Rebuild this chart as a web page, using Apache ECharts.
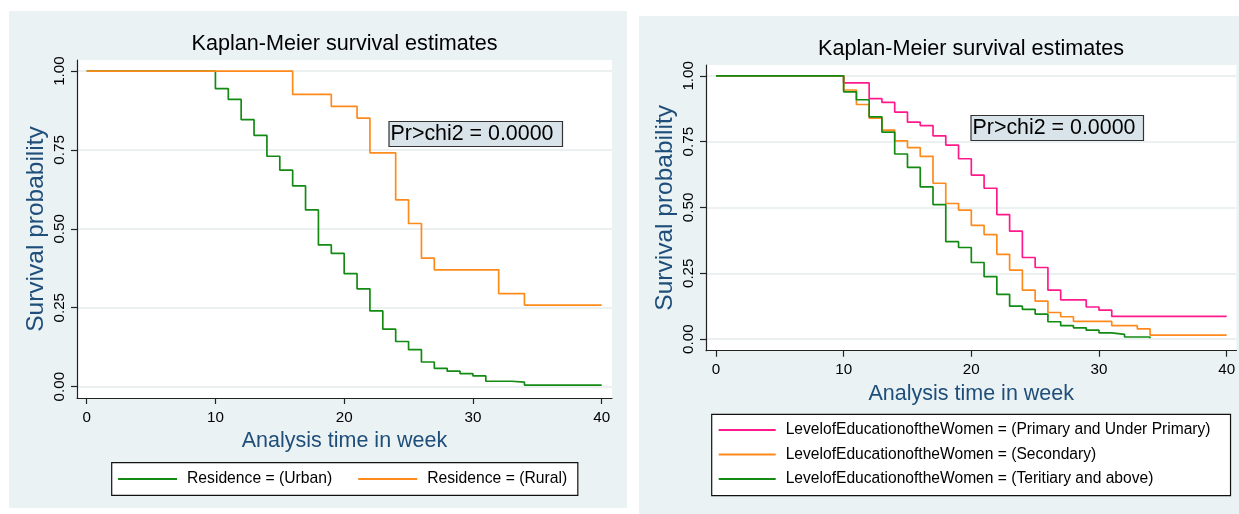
<!DOCTYPE html>
<html>
<head>
<meta charset="utf-8">
<script src="https://cdn.jsdelivr.net/npm/echarts@6/dist/echarts.min.js"></script>
<style>
html,body{margin:0;padding:0;background:#fff;}
#chart{width:1239px;height:514px;}
</style>
</head>
<body>
<div id="chart"></div>
<script>
// ---- Data ----
const chartTitle = 'Kaplan-Meier survival estimates';
const xAxisTitle = 'Analysis time in week';
const yAxisTitle = 'Survival probability';
const testLabel = 'Pr>chi2 = 0.0000';
const xTickValues = [0, 10, 20, 30, 40];
const yTickValues = [0, 0.25, 0.5, 0.75, 1];

// Left panel: Residence
const urbanName = 'Residence = (Urban)';
const urbanTimes = [0,10,11,12,13,14,15,16,17,18,19,20,21,22,23,24,25,26,27,28,29,30,31,33,34,40];
const urbanSurv  = [1,0.944,0.910,0.846,0.796,0.730,0.686,0.636,0.560,0.449,0.422,0.358,0.310,0.240,0.182,0.143,0.117,0.078,0.058,0.049,0.041,0.034,0.017,0.014,0.005,0.005];

const ruralName = 'Residence = (Rural)';
const ruralTimes = [0,16,19,21,22,24,25,26,27,32,34,40];
const ruralSurv  = [1,0.926,0.888,0.851,0.741,0.592,0.517,0.407,0.370,0.295,0.258,0.258];

// Right panel: Level of education
const primaryName = 'LevelofEducationoftheWomen = (Primary and Under Primary)';
const primaryTimes = [0,10,12,13,14,15,16,17,18,19,20,21,22,23,24,25,26,27,29,30,31,40];
const primarySurv  = [1,0.973,0.913,0.899,0.862,0.824,0.811,0.772,0.737,0.685,0.623,0.573,0.473,0.410,0.310,0.272,0.186,0.149,0.122,0.110,0.086,0.086];

const secondaryName = 'LevelofEducationoftheWomen = (Secondary)';
const secondaryTimes = [0,10,11,12,13,14,15,16,17,18,19,20,21,22,23,24,25,26,27,28,31,33,34,40];
const secondarySurv  = [1,0.946,0.891,0.839,0.794,0.753,0.727,0.694,0.592,0.515,0.490,0.432,0.397,0.322,0.262,0.186,0.144,0.101,0.085,0.067,0.051,0.039,0.015,0.015];

const tertiaryName = 'LevelofEducationoftheWomen = (Teritiary and above)';
const tertiaryTimes = [0,10,11,12,13,14,15,16,17,18,19,20,21,22,23,24,25,26,27,28,29,30,31,32,34];
const tertiarySurv  = [1,0.939,0.909,0.844,0.786,0.703,0.652,0.578,0.511,0.370,0.348,0.291,0.237,0.170,0.125,0.113,0.095,0.066,0.051,0.043,0.034,0.024,0.018,0.008,0.003];

// ---- Styling ----
const FONT = '"Liberation Sans", Arial, Helvetica, sans-serif';
const GREEN = '#138a13';
const ORANGE = '#ff8a1c';
const PINK = '#ff1a8c';
const PANEL = '#eaf2f3';
const AXIS_BLUE = '#1f4e7a';

function pairs(t, s) { return t.map((v, i) => [v, s[i]]); }

function xAxisFor(gridIndex, min, max) {
  return {
    type: 'value', gridIndex, min, max,
    name: xAxisTitle, nameLocation: 'middle', nameGap: 31,
    nameTextStyle: { color: AXIS_BLUE, fontSize: 21.5, fontFamily: FONT },
    axisLine: { show: true, onZero: false, lineStyle: { color: '#222', width: 1.2 } },
    axisTick: { show: true, length: 6, customValues: xTickValues, lineStyle: { color: '#222', width: 1.2 } },
    axisLabel: { customValues: xTickValues, color: '#000', fontSize: 15.2, fontFamily: FONT, margin: 12 },
    splitLine: { show: false }
  };
}
function yAxisFor(gridIndex, min, max) {
  return {
    type: 'value', gridIndex, min, max,
    name: yAxisTitle, nameLocation: 'middle', nameGap: 28,
    nameTextStyle: { color: AXIS_BLUE, fontSize: 24.5, fontFamily: FONT },
    axisLine: { show: true, onZero: false, lineStyle: { color: '#222', width: 1.2 } },
    axisTick: { show: true, length: 6, customValues: yTickValues, lineStyle: { color: '#222', width: 1.2 } },
    axisLabel: { customValues: yTickValues, rotate: 90, color: '#000', fontSize: 15.2, fontFamily: FONT, margin: 10,
                 formatter: v => v.toFixed(2) },
    splitLine: { show: true, lineStyle: { color: '#e4eced', width: 1.6 } }
  };
}
function kmSeries(name, t, s, color, xi, z) {
  return {
    type: 'line', name, step: 'end', xAxisIndex: xi, yAxisIndex: xi,
    data: pairs(t, s), symbol: 'none', showSymbol: false, z,
    color, lineStyle: { color, width: 1.7 }, itemStyle: { color },
    emphasis: { disabled: true }
  };
}
function pBox(x, y, w, h) {
  return {
    type: 'group', z: 100,
    children: [
      { type: 'rect', shape: { x, y, width: w, height: h },
        style: { fill: '#d9e4ea', stroke: '#333', lineWidth: 1.2 } },
      { type: 'text', x: x + 1.5, y: y + h / 2,
        style: { text: testLabel, fill: '#000', font: '21.4px ' + FONT, textAlign: 'left', textVerticalAlign: 'middle' } }
    ]
  };
}

const chart = echarts.init(document.getElementById('chart'), null, { renderer: 'canvas' });
chart.setOption({
  animation: false,
  backgroundColor: '#ffffff',
  graphic: [
    { type: 'rect', z: -10, shape: { x: 9, y: 11, width: 618, height: 497 }, style: { fill: PANEL } },
    { type: 'rect', z: -10, shape: { x: 639, y: 16, width: 600, height: 498 }, style: { fill: PANEL } },
    { type: 'text', z: 100, x: 344.5, y: 44,
      style: { text: chartTitle, fill: '#000', font: '21.6px ' + FONT, textAlign: 'center', textVerticalAlign: 'middle' } },
    { type: 'text', z: 100, x: 971, y: 49,
      style: { text: chartTitle, fill: '#000', font: '21.6px ' + FONT, textAlign: 'center', textVerticalAlign: 'middle' } },
    pBox(389, 121.5, 173.5, 25),
    pBox(971, 115.5, 172.5, 25)
  ],
  grid: [
    { left: 77, top: 60, width: 535, height: 338, show: true, backgroundColor: '#fff', borderWidth: 0 },
    { left: 706, top: 65, width: 530.5, height: 285.7, show: true, backgroundColor: '#fff', borderWidth: 0 }
  ],
  xAxis: [ xAxisFor(0, -0.75, 40.8), xAxisFor(1, -0.78, 40.77) ],
  yAxis: [ yAxisFor(0, -0.036, 1.035), yAxisFor(1, -0.044, 1.041) ],
  legend: [
    {
      left: 111.7, top: 462.7, orient: 'horizontal',
      data: [urbanName, ruralName],
      icon: 'rect', itemWidth: 59, itemHeight: 2, itemGap: 26,
      padding: [7.3, 10.7, 7.3, 6.3],
      backgroundColor: '#fff', borderColor: '#111', borderWidth: 1.2,
      selectedMode: false,
      textStyle: { color: '#000', fontSize: 15.7, fontFamily: FONT, lineHeight: 18, padding: [0, 0, 0, 5] }
    },
    {
      left: 711.7, top: 414.3, orient: 'vertical',
      data: [primaryName, secondaryName, tertiaryName],
      icon: 'rect', itemWidth: 57, itemHeight: 2, itemGap: 6.5,
      padding: [6.7, 20, 7.7, 7],
      backgroundColor: '#fff', borderColor: '#111', borderWidth: 1.2,
      selectedMode: false,
      textStyle: { color: '#000', fontSize: 15.6, fontFamily: FONT, lineHeight: 18, padding: [0, 0, 0, 5] }
    }
  ],
  series: [
    kmSeries(urbanName, urbanTimes, urbanSurv, GREEN, 0, 3),
    kmSeries(ruralName, ruralTimes, ruralSurv, ORANGE, 0, 4),
    kmSeries(primaryName, primaryTimes, primarySurv, PINK, 1, 3),
    kmSeries(secondaryName, secondaryTimes, secondarySurv, ORANGE, 1, 4),
    kmSeries(tertiaryName, tertiaryTimes, tertiarySurv, GREEN, 1, 5)
  ]
});
</script>
</body>
</html>
